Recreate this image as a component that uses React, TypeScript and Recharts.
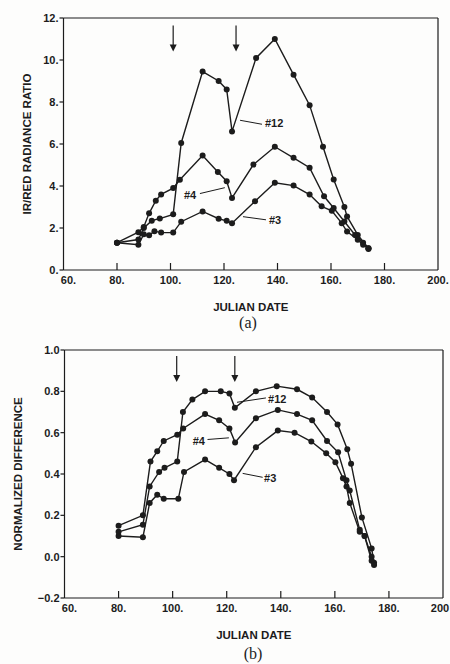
import React from "react";
import { LineChart, Line, XAxis, YAxis, ReferenceLine, ReferenceDot } from "recharts";

const FONT = "'Liberation Sans', Arial, sans-serif";
const INK = "#1c1c1c";

// (a) IR/red radiance ratio
const ratioDays12 = [80, 88, 90, 93, 96, 101, 104, 112, 118, 121, 123, 132, 139, 146, 152, 157, 161, 165, 166, 170, 174];
const ratio12 = [1.3, 1.45, 2.0, 2.35, 2.45, 2.65, 6.05, 9.45, 9.0, 8.6, 6.6, 10.1, 11.0, 9.3, 7.85, 5.87, 4.31, 3.0, 2.55, 1.67, 1.04];
const ratioDays4 = [80, 88, 90, 92, 94.5, 96.5, 101, 103.5, 112, 117.7, 121, 123, 131, 139, 146, 152, 157.4, 161, 165, 169, 172, 174];
const ratio4 = [1.3, 1.8, 2.05, 2.7, 3.3, 3.6, 3.9, 4.3, 5.45, 4.67, 4.23, 3.43, 5.02, 5.87, 5.34, 4.87, 3.51, 2.95, 2.31, 1.67, 1.3, 1.0];
const ratioDays3 = [80, 88, 90, 92, 94, 96.5, 101, 104, 112, 118, 121, 123, 131.6, 139, 146, 152, 156.5, 160.3, 164, 166, 170, 172, 174];
const ratio3 = [1.3, 1.2, 1.7, 1.65, 1.85, 1.78, 1.78, 2.3, 2.79, 2.44, 2.34, 2.23, 3.27, 4.15, 4.02, 3.59, 3.03, 2.82, 2.23, 1.83, 1.44, 1.2, 1.04];

// (b) normalized difference
const ndDays12 = [80, 89, 91.5, 95, 97, 101.7, 103.8, 107.3, 112, 117.8, 121, 123, 130.8, 138.5, 146, 151.6, 157.1, 161, 164.6, 166, 170, 173.6, 174.5];
const nd12 = [0.12, 0.155, 0.34, 0.41, 0.43, 0.46, 0.7, 0.76, 0.8, 0.8, 0.79, 0.72, 0.8, 0.825, 0.81, 0.77, 0.7, 0.64, 0.52, 0.45, 0.19, 0.04, -0.03];
const ndDays4 = [80, 89, 91.8, 94.3, 96.7, 101.7, 103.9, 112, 117.2, 121, 123.1, 130.8, 138.9, 146, 151.6, 157.1, 161.2, 164.3, 165.5, 169.2, 171, 173.6];
const nd4 = [0.15, 0.2, 0.46, 0.51, 0.56, 0.59, 0.62, 0.69, 0.66, 0.62, 0.553, 0.67, 0.71, 0.69, 0.66, 0.56, 0.505, 0.37, 0.32, 0.13, 0.1, 0.0];
const ndDays3 = [80, 89, 91.5, 94.3, 96.7, 102.1, 104.2, 112, 117.2, 121, 122.7, 130.8, 138.9, 145.1, 151.3, 156.8, 160.2, 163, 164.3, 165.5, 169.2, 171, 173.6, 174.5];
const nd3 = [0.1, 0.094, 0.26, 0.3, 0.28, 0.28, 0.41, 0.47, 0.43, 0.4, 0.37, 0.53, 0.61, 0.6, 0.557, 0.5, 0.457, 0.38, 0.34, 0.26, 0.12, 0.1, -0.02, -0.04];

const dateTicks = [60, 80, 100, 120, 140, 160, 180, 200];
const ratioTicks = [0, 2, 4, 6, 8, 10, 12];
const ndTicks = [-0.2, 0, 0.2, 0.4, 0.6, 0.8, 1.0];

// arrow tips (julian date, value) and curve labels
const arrowsA = [[101, 10.4], [124.5, 10.4]];
const arrowsB = [[101.5, 0.845], [123, 0.845]];
const notesA = [
  { text: "#12", at: [135.3, 6.98], from: [126, 7.13], to: [134.2, 6.94] },
  { text: "#4", at: [105, 3.59], from: [111, 3.64], to: [120.3, 3.92] },
  { text: "#3", at: [136.8, 2.39], from: [127.1, 2.54], to: [135.7, 2.39] },
];
const notesB = [
  { text: "#12", at: [135.3, 0.765], from: [123.8, 0.747], to: [134.5, 0.768] },
  { text: "#4", at: [107.4, 0.56], from: [112.9, 0.567], to: [120.8, 0.575] },
  { text: "#3", at: [133.8, 0.381], from: [125.9, 0.403], to: [133.3, 0.384] },
];

const zip = (days: number[], vals: number[]) => days.map((d, i) => ({ day: d, v: vals[i] }));

const tickFont = { fontFamily: FONT, fontSize: 11, fontWeight: 700, fill: INK };

// inward tick marks, labels below; the last label of (b) runs off the page edge
const makeDateTick = (cutLast: boolean) => ({ x, y, payload }: any) => {
  const v = payload.value;
  let dx = 0;
  if (v === 60) dx = 5;
  if (v === 200 && cutLast) dx = -3;
  return (
    <g>
      {v > 60 && v < 200 && <line x1={x} y1={y} x2={x} y2={y - 7} stroke={INK} strokeWidth={1.2} />}
      <text x={x + dx} y={y + 14} textAnchor="middle" {...tickFont}>
        {v === 200 && cutLast ? "200" : `${v}.`}
      </text>
    </g>
  );
};

const ArrowDown = ({ cx, cy }: any) => (
  <g>
    <line x1={cx} y1={cy - 26} x2={cx} y2={cy - 5} stroke={INK} strokeWidth={1.2} />
    <path d={`M${cx - 3.5},${cy - 7} L${cx + 3.5},${cy - 7} L${cx},${cy} Z`} fill={INK} />
  </g>
);

const noteShape = (text: string) => ({ cx, cy }: any) => (
  <text x={cx} y={cy} dominantBaseline="central" {...tickFont}>
    {text}
  </text>
);

const yTitle = (text: string, cx: number) => ({ viewBox }: any) => {
  const cy = viewBox.y + viewBox.height / 2;
  return (
    <text
      x={cx}
      y={cy}
      transform={`rotate(-90 ${cx} ${cy})`}
      textAnchor="middle"
      dominantBaseline="central"
      fontFamily={FONT}
      fontSize={11.5}
      fontWeight={700}
      fill={INK}
    >
      {text}
    </text>
  );
};

type PanelProps = {
  series: { day: number; v: number }[][];
  yDomain: [number, number];
  yTicks: number[];
  yFormat: (v: number) => string;
  yLabel: string;
  yLabelX: number;
  arrows: number[][];
  notes: typeof notesA;
  margin: { top: number; right: number; left: number; bottom: number };
  yWidth: number;
  height: number;
  cutLast: boolean;
};

function Panel(p: PanelProps) {
  const DateTick = makeDateTick(p.cutLast);
  return (
    <LineChart width={450} height={p.height} margin={p.margin}>
      <XAxis
        dataKey="day"
        type="number"
        domain={[60, 200]}
        ticks={dateTicks}
        allowDataOverflow
        interval={0}
        tickSize={0}
        tickMargin={0}
        tickLine={false}
        height={30}
        axisLine={{ stroke: INK, strokeWidth: 1.2 }}
        tick={<DateTick />}
        label={{ value: "JULIAN DATE", position: "bottom", offset: 3, fontFamily: FONT, fontSize: 11.5, fontWeight: 700, fill: INK }}
      />
      <YAxis
        type="number"
        domain={p.yDomain}
        ticks={p.yTicks}
        interval={0}
        width={p.yWidth}
        tickSize={4}
        tickMargin={1}
        tickFormatter={p.yFormat}
        axisLine={{ stroke: INK, strokeWidth: 1.2 }}
        tickLine={{ stroke: INK, strokeWidth: 1.2 }}
        tick={tickFont}
        label={{ content: yTitle(p.yLabel, p.yLabelX) }}
      />
      <ReferenceLine y={p.yDomain[1]} stroke={INK} strokeWidth={1.2} />
      <ReferenceLine x={200} stroke={INK} strokeWidth={1.2} />
      {p.series.map((s, i) => (
        <Line
          key={i}
          data={s}
          dataKey="v"
          type="linear"
          stroke={INK}
          strokeWidth={1.4}
          dot={{ r: 3, fill: INK, stroke: "none" }}
          isAnimationActive={false}
        />
      ))}
      {p.arrows.map(([d, v], i) => (
        <ReferenceDot key={`a${i}`} x={d} y={v} r={0} shape={<ArrowDown />} />
      ))}
      {p.notes.map((n, i) => (
        <ReferenceLine
          key={`l${i}`}
          segment={[{ x: n.from[0], y: n.from[1] }, { x: n.to[0], y: n.to[1] }]}
          stroke={INK}
          strokeWidth={1}
        />
      ))}
      {p.notes.map((n, i) => (
        <ReferenceDot key={`n${i}`} x={n.at[0]} y={n.at[1]} r={0} shape={noteShape(n.text)} />
      ))}
    </LineChart>
  );
}

const caption = (text: string, top: number, left: number) => (
  <div
    style={{
      position: "absolute",
      top,
      left,
      width: 40,
      textAlign: "center",
      fontFamily: "'Liberation Serif', 'DejaVu Serif', serif",
      fontSize: 16,
      lineHeight: "18px",
      color: INK,
    }}
  >
    {text}
  </div>
);

export default function App() {
  return (
    <div style={{ position: "absolute", top: 0, left: 0, width: 450, height: 664, background: "#fdfdfc", overflow: "hidden" }}>
      <div style={{ position: "absolute", top: 0, left: 0 }}>
        <Panel
          series={[zip(ratioDays12, ratio12), zip(ratioDays4, ratio4), zip(ratioDays3, ratio3)]}
          yDomain={[0, 12]}
          yTicks={ratioTicks}
          yFormat={(v) => `${v}.`}
          yLabel="IR/RED RADIANCE RATIO"
          yLabelX={27}
          arrows={arrowsA}
          notes={notesA}
          margin={{ top: 18, right: 12, left: 0, bottom: 30 }}
          yWidth={63.5}
          height={330}
          cutLast={false}
        />
      </div>
      {caption("(a)", 314, 228)}
      <div style={{ position: "absolute", top: 330, left: 0 }}>
        <Panel
          series={[zip(ndDays12, nd12), zip(ndDays4, nd4), zip(ndDays3, nd3)]}
          yDomain={[-0.2, 1.0]}
          yTicks={ndTicks}
          yFormat={(v) => (v < 0 ? `\u2212${Math.abs(v).toFixed(1)}` : v.toFixed(1))}
          yLabel="NORMALIZED DIFFERENCE"
          yLabelX={18}
          arrows={arrowsB}
          notes={notesB}
          margin={{ top: 20, right: 7, left: 0, bottom: 36 }}
          yWidth={64.5}
          height={334}
          cutLast={true}
        />
      </div>
      {caption("(b)", 645, 233)}
    </div>
  );
}
